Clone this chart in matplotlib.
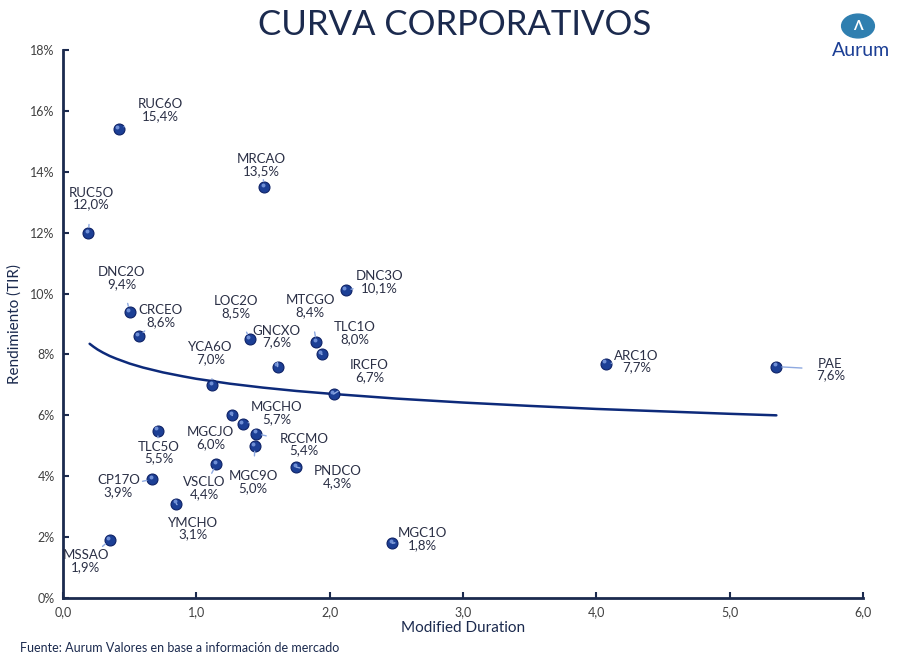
import numpy as np
import matplotlib
matplotlib.use("Agg")
import matplotlib.pyplot as plt
from matplotlib.patches import Circle

# Datos: duration modificada y TIR (%)
bonos = ["RUC6O", "MRCAO", "RUC5O", "DNC2O", "CRCEO", "LOC2O", "GNCXO", "YCA6O",
         "MTCGO", "TLC1O", "DNC3O", "IRCFO", "ARC1O", "PAE", "MGCHO", "MGCJO",
         "RCCMO", "MGC9O", "TLC5O", "VSCLO", "PNDCO", "CP17O", "YMCHO", "MSSAO", "MGC1O"]
duration = [0.42, 1.51, 0.19, 0.50, 0.57, 1.40, 1.61, 1.12,
            1.90, 1.94, 2.12, 2.03, 4.07, 5.35, 1.35, 1.27,
            1.45, 1.44, 0.71, 1.15, 1.75, 0.67, 0.85, 0.35, 2.47]
tir = [15.4, 13.5, 12.0, 9.4, 8.6, 8.5, 7.6, 7.0,
       8.4, 8.0, 10.1, 6.7, 7.7, 7.6, 5.7, 6.0,
       5.4, 5.0, 5.5, 4.4, 4.3, 3.9, 3.1, 1.9, 1.8]

# Curva (tendencia)
curva_x = [0.20, 0.23, 0.26, 0.30, 0.35, 0.40, 0.50, 0.60, 0.75, 0.90, 1.00, 1.25, 1.50,
           1.75, 2.00, 2.50, 3.00, 3.50, 4.00, 4.50, 5.00, 5.35]
curva_y = [8.35, 8.25, 8.16, 8.06, 7.95, 7.86, 7.70, 7.57, 7.41, 7.28, 7.20, 7.04, 6.91,
           6.80, 6.71, 6.55, 6.42, 6.31, 6.21, 6.13, 6.05, 6.00]

# desplazamiento de etiquetas (pixeles, y hacia arriba)
offsets = {
    "RUC6O": (41, 19), "MRCAO": (-3, 22), "RUC5O": (3, 34), "DNC2O": (-8, 34),
    "CRCEO": (22, 20), "LOC2O": (-14, 32), "GNCXO": (-1, 30), "YCA6O": (-2, 32),
    "MTCGO": (-6, 36), "TLC1O": (33, 21), "DNC3O": (34, 8), "IRCFO": (36, 23),
    "ARC1O": (31, 2), "PAE": (54, -3), "MGCHO": (34, 11), "MGCJO": (-22, -23),
    "RCCMO": (48, -11), "MGC9O": (-2, -36), "TLC5O": (1, -22), "VSCLO": (-12, -24),
    "PNDCO": (41, -10), "CP17O": (-34, -7), "YMCHO": (17, -25), "MSSAO": (-24, -21),
    "MGC1O": (30, 4),
}

navy = "#1b2a4e"
plt.rcParams["font.family"] = ["Lato", "DejaVu Sans"]

fig = plt.figure(figsize=(9.1, 6.61), dpi=100)
ax = fig.add_axes([0.0692, 0.0953, 0.8792, 0.8291])

ax.plot(curva_x, curva_y, color="#0d2a7a", lw=1.8, zorder=2, solid_capstyle="round")
ax.scatter(duration, tir, s=62, color="#1c3f95", edgecolor="#0e2266", lw=0.8, zorder=4)
ax.scatter(np.array(duration) - 0.012, np.array(tir) + 0.07, s=8, color="#6f8fd6", lw=0, zorder=5)

px = 72 / 100
for b, x, y in zip(bonos, duration, tir):
    dx, dy = offsets[b]
    v = f"{y:.1f}".replace(".", ",") + "%"
    ax.annotate(f"{b}\n{v}", (x, y), xytext=(dx * px, dy * px), textcoords="offset points",
                ha="center", va="center", fontsize=9.5, color="#2a2f45", linespacing=1.0,
                arrowprops=dict(arrowstyle="-", color="#8ea9e0", lw=1.0,
                                shrinkA=8, shrinkB=4), zorder=6)

ax.set_xlim(0, 6)
ax.set_ylim(0, 18)
ax.set_xticks(range(0, 7))
ax.set_xticklabels([f"{i},0" for i in range(0, 7)])
ax.set_yticks(range(0, 19, 2))
ax.set_yticklabels([f"{i}%" for i in range(0, 19, 2)])
ax.tick_params(direction="in", length=4, width=1.5, color=navy, labelsize=9,
               labelcolor="#404040", pad=6)
for s in ["top", "right"]:
    ax.spines[s].set_visible(False)
for s in ["left", "bottom"]:
    ax.spines[s].set_color(navy)
    ax.spines[s].set_linewidth(2)

ax.set_xlabel("Modified Duration", fontsize=11, color=navy, labelpad=2)
ax.set_ylabel("Rendimiento (TIR)", fontsize=11, color=navy, labelpad=6)

fig.text(0.5, 0.962, "CURVA CORPORATIVOS", ha="center", va="center",
         fontsize=25, color=navy)
fig.text(0.022, 0.019, "Fuente: Aurum Valores en base a información de mercado",
         ha="left", va="center", fontsize=9, color=navy)

# logo
fig.patches.append(Circle((858 / 910, 1 - 26 / 661), 0.018, transform=fig.transFigure,
                          color="#2f7fb0", zorder=10))
fig.text(858 / 910, 1 - 26 / 661, "Λ", ha="center", va="center", fontsize=10,
         color="white", fontweight="bold", zorder=11)
fig.text(861 / 910, 1 - 51 / 661, "Aurum", ha="center", va="center", fontsize=14,
         color="#1c3f95")

fig.savefig("out.png", dpi=100)
